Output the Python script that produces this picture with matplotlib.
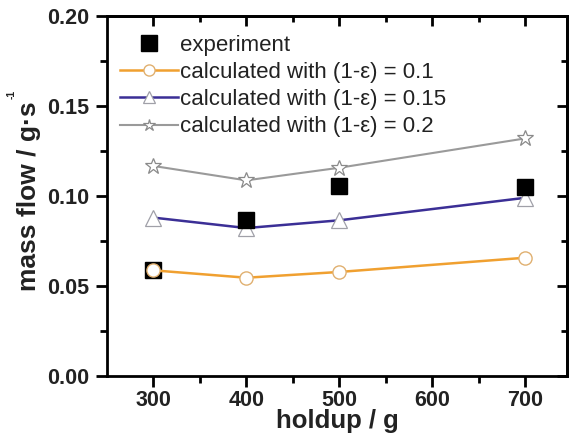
import matplotlib
matplotlib.use("Agg")
import matplotlib.pyplot as plt
import numpy as np

plt.rcParams['font.family'] = ['Liberation Sans', 'DejaVu Sans']

# data
holdup = [300, 400, 500, 700]
experiment = [0.0587, 0.0867, 0.1056, 0.105]
calc_01 = [0.0587, 0.0546, 0.0578, 0.0657]
calc_015 = [0.088, 0.0822, 0.0865, 0.099]
calc_02 = [0.1167, 0.1087, 0.1157, 0.132]

fig = plt.figure(figsize=(5.72, 4.4), dpi=100)
ax = fig.add_axes([0.187, 0.1455, 0.804, 0.818])

ax.plot(holdup, calc_02, color='#9a9a9a', lw=1.5, marker='*', ms=12,
        mfc='white', mec='#8a8a8a', mew=0.9, label='calculated with (1-ε) = 0.2', zorder=2)
ax.plot(holdup, calc_015, color='#3b2f96', lw=1.8, marker='^', ms=11,
        mfc='white', mec='#a0a0a8', mew=0.9, label='calculated with (1-ε) = 0.15', zorder=2)
ax.plot(holdup, calc_01, color='#f0a030', lw=1.8, marker='o', ms=9.5,
        mfc='white', mec='#e0b070', mew=1.0, label='calculated with (1-ε) = 0.1', zorder=4)
ax.plot(holdup, experiment, ls='none', marker='s', ms=12, color='black',
        label='experiment', zorder=3)

ax.set_xlim(250, 745)
ax.set_ylim(0, 0.2)
ax.set_xticks([300, 400, 500, 600, 700])
ax.set_xticks([350, 450, 550, 650], minor=True)
ax.set_yticks([0.0, 0.05, 0.10, 0.15, 0.20])
ax.set_yticks([0.025, 0.075, 0.125, 0.175], minor=True)
ax.set_yticklabels(['0.00', '0.05', '0.10', '0.15', '0.20'])

for s in ax.spines.values():
    s.set_linewidth(2)
ax.tick_params(which='major', direction='out', length=8, width=2,
               labelsize=15.5, pad=2)
ax.tick_params(axis='y', which='major', pad=5)
ax.tick_params(which='minor', direction='out', length=5, width=2)
for lab in ax.get_xticklabels() + ax.get_yticklabels():
    lab.set_fontweight('bold')
    lab.set_color('#222222')

# mirrored ticks on top and right, pointing inwards
top = ax.secondary_xaxis('top')
top.set_xticks([300, 400, 500, 600, 700])
top.set_xticks([350, 450, 550, 650], minor=True)
top.tick_params(which='both', direction='in', width=2, labeltop=False)
top.tick_params(which='major', length=7)
top.tick_params(which='minor', length=4)
top.spines['top'].set_linewidth(2)
right = ax.secondary_yaxis('right')
right.set_yticks([0.0, 0.05, 0.10, 0.15, 0.20])
right.set_yticks([0.025, 0.075, 0.125, 0.175], minor=True)
right.tick_params(which='both', direction='in', width=2, labelright=False)
right.tick_params(which='major', length=7)
right.tick_params(which='minor', length=4)
right.spines['right'].set_linewidth(2)

ax.set_xlabel('holdup / g', fontsize=18.5, fontweight='bold', color='#222222', labelpad=-1)
ax.set_ylabel('mass flow / g·s', fontsize=19, fontweight='bold',
              color='#222222', labelpad=4)
# small superscript -1 after the y label
ax.text(-0.208, 0.77, '-1', transform=ax.transAxes, rotation=90,
        fontsize=7.5, fontweight='bold', color='#222222', ha='center', va='bottom')

handles, labels = ax.get_legend_handles_labels()
order = [3, 2, 1, 0]
leg = ax.legend([handles[i] for i in order], [labels[i] for i in order],
                loc='upper left', bbox_to_anchor=(0.0, 0.985), frameon=False,
                fontsize=16, handlelength=2.6, handletextpad=0.1,
                labelspacing=0.28, borderaxespad=0.2)
for t in leg.get_texts():
    t.set_color('#222222')
for h, ms in zip(leg.legend_handles, [11, 8, 9, 9]):
    h.set_markersize(ms)

fig.savefig('out.png', dpi=100)
